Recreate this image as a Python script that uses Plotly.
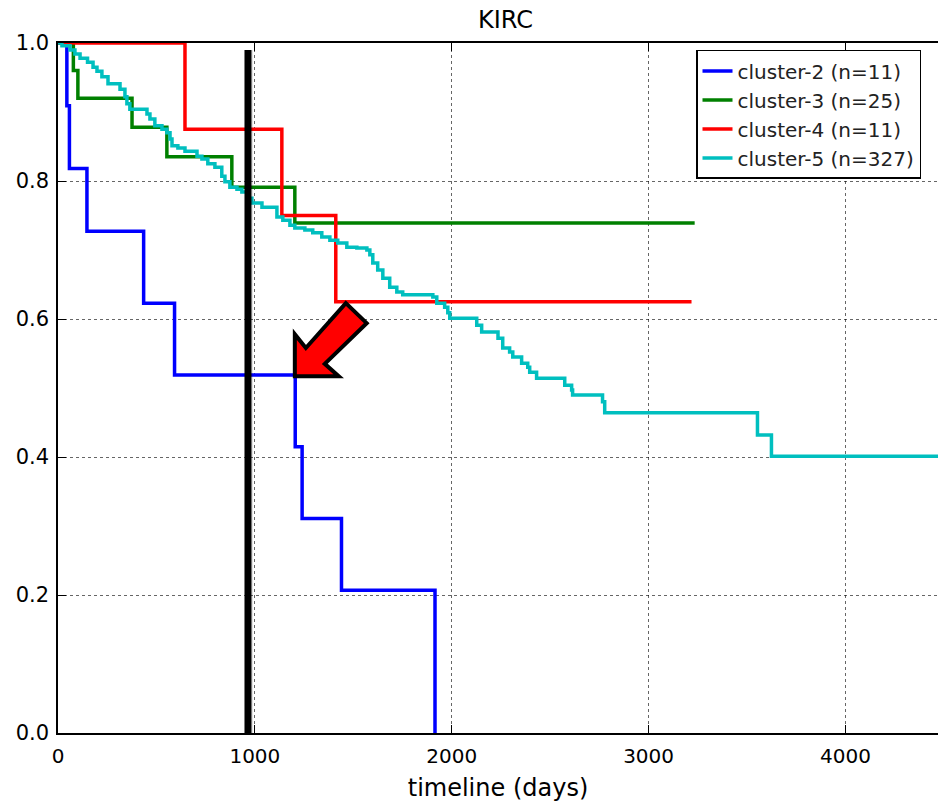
import plotly.graph_objects as go

# ---- data ----
c2_t = [0, 45, 58, 147, 435, 592, 1205, 1240, 1440, 1915]
c2_s = [1.0, 0.909, 0.818, 0.727, 0.623, 0.519, 0.415, 0.311, 0.207, 0.0]

c3_t = [0, 78, 101, 376, 553, 883, 1203, 3234]
c3_s = [1.0, 0.96, 0.92, 0.878, 0.835, 0.791, 0.739, 0.739]

c4_t = [0, 645, 1137, 1411, 3218]
c4_s = [1.0, 0.875, 0.75, 0.625, 0.625]

c5_t = [0, 20, 61, 86, 112, 150, 178, 198, 223, 254, 315, 340, 350, 365, 452, 467,
        492, 528, 553, 569, 579, 609, 645, 706, 731, 761, 797, 832, 848, 873, 909,
        934, 959, 985, 1036, 1112, 1142, 1178, 1203, 1254, 1294, 1340, 1381, 1421,
        1467, 1518, 1569, 1584, 1599, 1624, 1650, 1685, 1721, 1751, 1904, 1924, 1964,
        1980, 1990, 2127, 2152, 2235, 2259, 2294, 2310, 2355, 2386, 2396, 2431, 2574,
        2609, 2614, 2766, 2777, 3553, 3624, 4600]
c5_s = [1.0, 0.996, 0.99, 0.984, 0.978, 0.972, 0.965, 0.959, 0.951, 0.941, 0.933,
        0.922, 0.912, 0.904, 0.897, 0.89, 0.88, 0.875, 0.87, 0.861, 0.851, 0.848,
        0.843, 0.836, 0.832, 0.825, 0.82, 0.807, 0.799, 0.791, 0.788, 0.784, 0.775,
        0.768, 0.762, 0.748, 0.743, 0.736, 0.732, 0.729, 0.725, 0.719, 0.714, 0.71,
        0.704, 0.703, 0.7, 0.693, 0.681, 0.671, 0.659, 0.646, 0.639, 0.635, 0.632,
        0.623, 0.617, 0.609, 0.601, 0.591, 0.581, 0.572, 0.558, 0.552, 0.545, 0.536,
        0.53, 0.523, 0.514, 0.504, 0.497, 0.49, 0.48, 0.464, 0.432, 0.401, 0.401]

names = ["cluster-2 (n=11)", "cluster-3 (n=25)", "cluster-4 (n=11)", "cluster-5 (n=327)"]
colors = ["#0000ff", "#008000", "#ff0000", "#00bfbf"]
series = [(c2_t, c2_s), (c3_t, c3_s), (c4_t, c4_s), (c5_t, c5_s)]

x_ticks = [0, 1000, 2000, 3000, 4000]
y_ticks = [0.0, 0.2, 0.4, 0.6, 0.8, 1.0]

marker_day = 965  # vertical highlight line
arrow_tip = (1203, 0.517)

FONT = "DejaVu Sans"

fig = go.Figure()
for (t, s), n, c in zip(series, names, colors):
    fig.add_trace(go.Scatter(x=t, y=s, mode="lines", name=n, line=dict(color=c, width=3.5, shape="hv"),
                             legendgroup=n))

# vertical black line with slight shadow
fig.add_shape(type="line", x0=marker_day + 5, x1=marker_day + 5, y0=0, y1=0.99,
              line=dict(color="rgba(0,0,0,0.12)", width=8), layer="above")
fig.add_shape(type="line", x0=marker_day, x1=marker_day, y0=0, y1=0.99,
              line=dict(color="black", width=7), layer="above")

# red arrow pointing at the blue curve
tx, ty = arrow_tip
pts = [(tx, ty), (tx, ty + 0.061), (tx + 56, ty + 0.041), (tx + 259, ty + 0.106),
       (tx + 365, ty + 0.077), (tx + 152, ty + 0.018), (tx + 223, ty)]
path = "M " + " L ".join(f"{x},{y}" for x, y in pts) + " Z"
fig.add_shape(type="path", path=path, fillcolor="#ff0000", line=dict(color="black", width=4),
              layer="above")

axis_common = dict(showline=True, linecolor="black", linewidth=1.5, ticks="inside", ticklen=8,
                   tickcolor="black", showgrid=True, gridcolor="rgba(0,0,0,0.6)", griddash="dot",
                   gridwidth=1, zeroline=False)

fig.update_xaxes(range=[0, 4470], tickvals=x_ticks, mirror="ticks", ticklabelstandoff=4,
                 tickfont=dict(family=FONT, size=20, color="black"),
                 title=dict(text="timeline (days)", font=dict(family=FONT, size=24, color="black"),
                            standoff=12),
                 **axis_common)
fig.update_yaxes(range=[0, 1.0], tickvals=y_ticks, tickformat=".1f", ticklabelstandoff=3,
                 tickfont=dict(family=FONT, size=21, color="black"), **axis_common)

fig.update_layout(
    width=938, height=803,
    margin=dict(l=58, r=0, t=43, b=70),
    plot_bgcolor="white", paper_bgcolor="white",
    title=dict(text="KIRC", x=0.539, xanchor="center", y=0.975, yanchor="middle",
               font=dict(family=FONT, size=24, color="black")),
    font=dict(family=FONT, color="black"),
    legend=dict(x=0.725, y=0.99, xanchor="left", yanchor="top", bordercolor="black", borderwidth=1.5,
                bgcolor="white", font=dict(family=FONT, size=20, color="#222"),
                traceorder="grouped", tracegroupgap=0, itemwidth=30),
    showlegend=True,
)

fig.write_html("out.html", config={"displayModeBar": False},
               post_script="document.body.style.margin='0';document.body.style.overflow='hidden';")
